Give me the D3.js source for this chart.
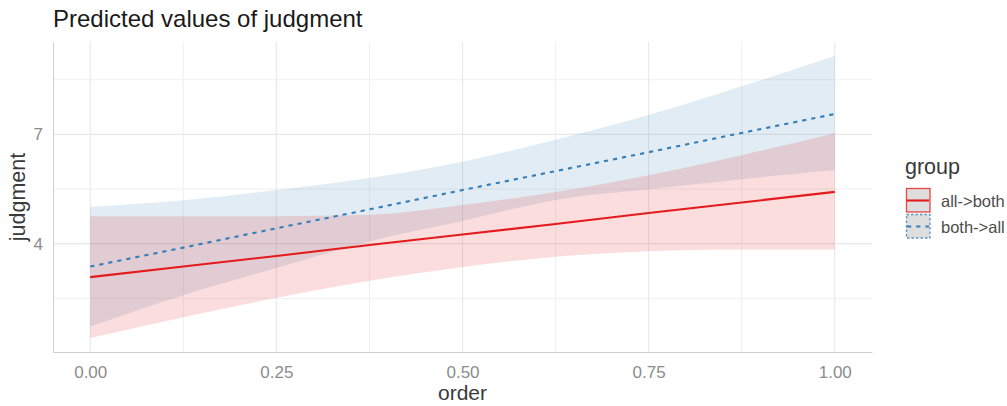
<!DOCTYPE html>
<html>
<head>
<meta charset="utf-8">
<script src="https://cdn.jsdelivr.net/npm/d3@7"></script>
<style>
  body { margin: 0; background: #fff; }
  text { font-family: "Liberation Sans", Arial, sans-serif; }
</style>
</head>
<body>
<div id="chart"></div>
<script>
// values
var orderX     = [0, 0.125, 0.25, 0.375, 0.5, 0.625, 0.75, 0.875, 1];
var allBoth    = [3.08, 3.37, 3.66, 3.96, 4.25, 4.54, 4.84, 5.13, 5.42];
var allBothLo  = [1.41, 1.98, 2.51, 2.98, 3.36, 3.64, 3.79, 3.84, 3.84];
var allBothHi  = [4.75, 4.75, 4.75, 4.79, 5.06, 5.42, 5.88, 6.43, 7.03];
var bothAll    = [3.37, 3.89, 4.42, 4.94, 5.47, 5.99, 6.51, 7.04, 7.56];
var bothAllLo  = [1.72, 2.58, 3.33, 4.06, 4.62, 5.20, 5.49, 5.77, 6.02];
var bothAllHi  = [5.01, 5.19, 5.47, 5.80, 6.25, 6.85, 7.53, 8.32, 9.15];
var groups     = ["all->both", "both->all"];
var xTicks     = [0, 0.25, 0.5, 0.75, 1];
var xMinor     = [0.125, 0.375, 0.625, 0.875];
var yTicks     = [4, 7];
var yMinor     = [2.5, 5.5, 8.5];

var width = 1007, height = 406;
var panel = {left: 53, right: 872, top: 42, bottom: 352};

var colors = {"all->both": "#e41a1c", "both->all": "#377eb8"};

var series = [
  {key: "both->all", fit: bothAll, lo: bothAllLo, hi: bothAllHi, dash: "4.2,5"},
  {key: "all->both", fit: allBoth, lo: allBothLo, hi: allBothHi, dash: null}
];

// ggplot style 5% expansion
var yMin = d3.min(allBothLo.concat(bothAllLo)), yMax = d3.max(allBothHi.concat(bothAllHi));
var yPad = (yMax - yMin) * 0.05;

var x = d3.scaleLinear().domain([-0.05, 1.05]).range([panel.left, panel.right]);
var y = d3.scaleLinear().domain([yMin - yPad, yMax + yPad]).range([panel.bottom, panel.top]);

var svg = d3.select("#chart").append("svg")
  .attr("width", width)
  .attr("height", height);

// grid
var grid = svg.append("g");
grid.selectAll(".vminor").data(xMinor).enter().append("line")
  .attr("x1", d => x(d)).attr("x2", d => x(d))
  .attr("y1", panel.top).attr("y2", panel.bottom)
  .attr("stroke", "#efefef").attr("stroke-width", 1);
grid.selectAll(".hminor").data(yMinor).enter().append("line")
  .attr("x1", panel.left).attr("x2", panel.right)
  .attr("y1", d => y(d)).attr("y2", d => y(d))
  .attr("stroke", "#efefef").attr("stroke-width", 1);
grid.selectAll(".vmajor").data(xTicks).enter().append("line")
  .attr("x1", d => x(d)).attr("x2", d => x(d))
  .attr("y1", panel.top).attr("y2", panel.bottom)
  .attr("stroke", "#e8e8e8").attr("stroke-width", 1.1);
grid.selectAll(".hmajor").data(yTicks).enter().append("line")
  .attr("x1", panel.left).attr("x2", panel.right)
  .attr("y1", d => y(d)).attr("y2", d => y(d))
  .attr("stroke", "#e8e8e8").attr("stroke-width", 1.1);

// ribbons
var area = d3.area()
  .x((d, i) => x(orderX[i]))
  .y0(d => y(d[0]))
  .y1(d => y(d[1]))
  .curve(d3.curveMonotoneX);

series.forEach(function(s) {
  svg.append("path")
    .datum(s.lo.map((v, i) => [v, s.hi[i]]))
    .attr("d", area)
    .attr("fill", colors[s.key])
    .attr("fill-opacity", 0.15);
});

// lines
var line = d3.line()
  .x((d, i) => x(orderX[i]))
  .y(d => y(d));

series.forEach(function(s) {
  svg.append("path")
    .datum(s.fit)
    .attr("d", line)
    .attr("fill", "none")
    .attr("stroke", colors[s.key])
    .attr("stroke-width", 2.1)
    .attr("stroke-dasharray", s.dash);
});

// axes
var xAxis = d3.axisBottom(x).tickValues(xTicks).tickFormat(d3.format(".2f")).tickSize(0).tickPadding(14);
var gx = svg.append("g").attr("transform", "translate(0," + panel.bottom + ")").call(xAxis);
gx.select(".domain").attr("stroke", "#cfcfcf");
gx.selectAll("text").attr("fill", "#8c8c8c").attr("font-size", 17)
  .attr("font-family", "Liberation Sans, Arial, sans-serif");

var yAxis = d3.axisLeft(y).tickValues(yTicks).tickSize(0).tickPadding(10);
var gy = svg.append("g").attr("transform", "translate(" + panel.left + ",0)").call(yAxis);
gy.select(".domain").attr("stroke", "#cfcfcf");
gy.selectAll("text").attr("fill", "#8c8c8c").attr("font-size", 17)
  .attr("font-family", "Liberation Sans, Arial, sans-serif");

// titles
svg.append("text")
  .attr("x", panel.left).attr("y", 27)
  .attr("font-size", 24).attr("fill", "#1a1a1a")
  .text("Predicted values of judgment");

svg.append("text")
  .attr("x", (panel.left + panel.right) / 2).attr("y", 400)
  .attr("text-anchor", "middle")
  .attr("font-size", 21).attr("fill", "#3a3a3a")
  .text("order");

svg.append("text")
  .attr("transform", "translate(25," + ((panel.top + panel.bottom) / 2) + ") rotate(-90)")
  .attr("text-anchor", "middle")
  .attr("font-size", 21.5).attr("fill", "#3a3a3a")
  .text("judgment");

// legend
var legend = svg.append("g").attr("transform", "translate(906,0)");
legend.append("text")
  .attr("x", -1).attr("y", 174)
  .attr("font-size", 21.5).attr("fill", "#3a3a3a")
  .text("group");

var keys = legend.selectAll(".key").data(series.slice().reverse()).enter().append("g")
  .attr("transform", (d, i) => "translate(0," + (188 + i * 26) + ")");
keys.append("rect")
  .attr("x", 0.5).attr("y", 0.5).attr("width", 23.5).attr("height", 23.5)
  .attr("fill", "#dedede")
  .attr("stroke", d => colors[d.key]).attr("stroke-opacity", 0.8)
  .attr("stroke-width", 1.3)
  .attr("stroke-dasharray", d => d.dash ? "2.5,2" : null);
keys.append("line")
  .attr("x1", 1).attr("x2", 23).attr("y1", 12.5).attr("y2", 12.5)
  .attr("stroke", d => colors[d.key]).attr("stroke-width", 2.1)
  .attr("stroke-dasharray", d => d.dash);
keys.append("text")
  .attr("x", 35).attr("y", 19)
  .attr("font-size", 16.5).attr("fill", "#4d4d4d")
  .text(d => d.key);
</script>
</body>
</html>
